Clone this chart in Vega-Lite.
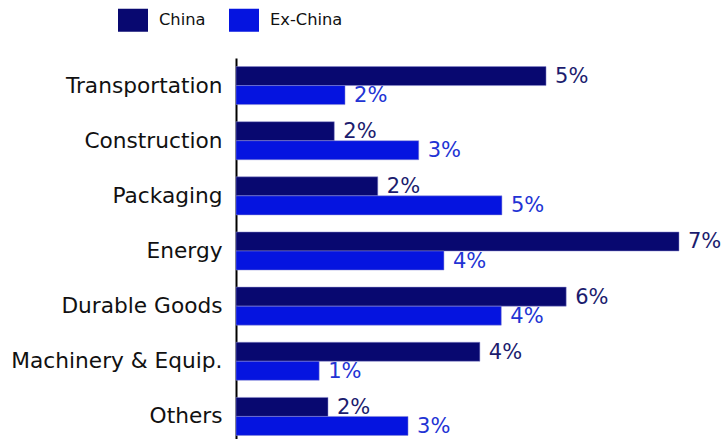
{
  "$schema": "https://vega.github.io/schema/vega-lite/v6.json",
  "width": 489,
  "height": 386,
  "autosize": {"type": "none"},
  "padding": {"left": 236, "top": 58, "right": 0, "bottom": 0},
  "background": "white",
  "config": {"view": {"stroke": null}},
  "data": {
    "values": [
      {"sector": "Transportation", "series": "China", "value": 4.92, "label": "5%"},
      {"sector": "Transportation", "series": "Ex-China", "value": 1.73, "label": "2%"},
      {"sector": "Construction", "series": "China", "value": 1.56, "label": "2%"},
      {"sector": "Construction", "series": "Ex-China", "value": 2.9, "label": "3%"},
      {"sector": "Packaging", "series": "China", "value": 2.25, "label": "2%"},
      {"sector": "Packaging", "series": "Ex-China", "value": 4.22, "label": "5%"},
      {"sector": "Energy", "series": "China", "value": 7.03, "label": "7%"},
      {"sector": "Energy", "series": "Ex-China", "value": 3.3, "label": "4%"},
      {"sector": "Durable Goods", "series": "China", "value": 5.24, "label": "6%"},
      {"sector": "Durable Goods", "series": "Ex-China", "value": 4.21, "label": "4%"},
      {"sector": "Machinery & Equip.", "series": "China", "value": 3.87, "label": "4%"},
      {"sector": "Machinery & Equip.", "series": "Ex-China", "value": 1.32, "label": "1%"},
      {"sector": "Others", "series": "China", "value": 1.46, "label": "2%"},
      {"sector": "Others", "series": "Ex-China", "value": 2.73, "label": "3%"}
    ]
  },
  "encoding": {
    "y": {
      "field": "sector",
      "type": "nominal",
      "sort": ["Transportation", "Construction", "Packaging", "Energy", "Durable Goods", "Machinery & Equip.", "Others"],
      "scale": {"paddingInner": 0.31, "paddingOuter": 0.155},
      "axis": {
        "title": null,
        "ticks": false,
        "grid": false,
        "labelFont": "DejaVu Sans",
        "labelFontSize": 21.7,
        "labelColor": "#111111",
        "labelPadding": 14,
        "labelLimit": 0,
        "domainColor": "#000000",
        "domainWidth": 2
      }
    },
    "x": {
      "field": "value",
      "type": "quantitative",
      "scale": {"domain": [0, 7.76], "nice": false, "zero": true},
      "axis": null
    },
    "yOffset": {"field": "series", "sort": ["China", "Ex-China"]}
  },
  "layer": [
    {
      "mark": {"type": "bar", "stroke": "#8a8ad0", "strokeWidth": 0.5},
      "encoding": {
        "color": {
          "field": "series",
          "type": "nominal",
          "scale": {"domain": ["China", "Ex-China"], "range": ["#080870", "#0514E0"]},
          "legend": {
            "title": null,
            "orient": "none",
            "direction": "horizontal",
            "legendX": -118,
            "legendY": -53,
            "symbolType": "M-1,-0.767H1V0.767H-1Z",
            "symbolSize": 900,
            "symbolStrokeWidth": 0,
            "labelFont": "DejaVu Sans",
            "labelFontSize": 16.3,
            "labelColor": "#111111",
            "labelOffset": 11,
            "columnPadding": 23
          }
        }
      }
    },
    {
      "mark": {"type": "text", "align": "left", "dx": 9, "dy": 1, "font": "DejaVu Sans", "fontSize": 21},
      "encoding": {
        "text": {"field": "label"},
        "color": {
          "field": "series",
          "type": "nominal",
          "scale": {"domain": ["China", "Ex-China"], "range": ["#1c1c6e", "#2233d4"]},
          "legend": null
        }
      }
    }
  ],
  "resolve": {"scale": {"color": "independent"}}
}
